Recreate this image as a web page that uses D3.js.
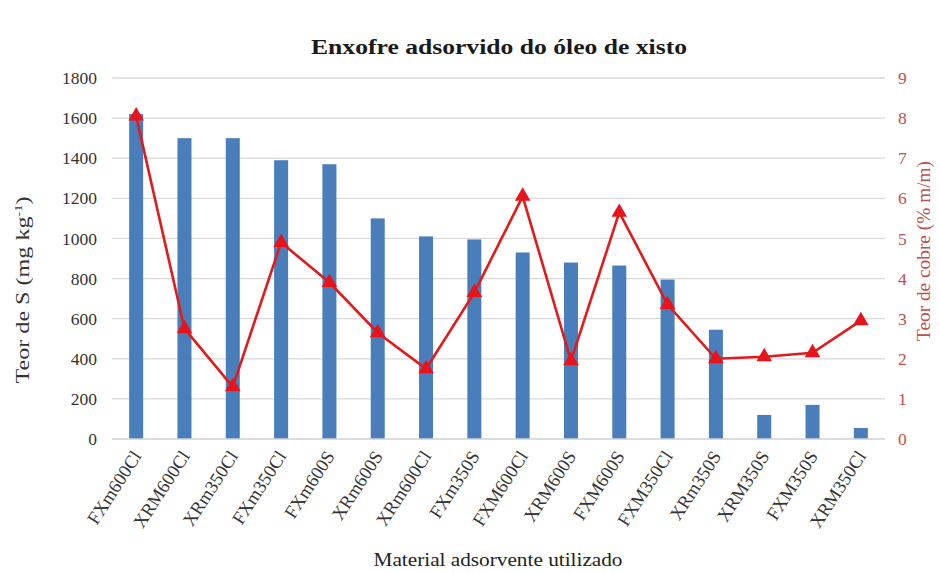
<!DOCTYPE html>
<html>
<head>
<meta charset="utf-8">
<script src="https://cdn.jsdelivr.net/npm/d3@7"></script>
<style>
  html, body { margin: 0; padding: 0; background: #fff; }
  svg { display: block; }
  svg text { font-family: "Liberation Serif", "Times New Roman", serif; }
</style>
</head>
<body>
<svg id="chart" width="940" height="573"></svg>
<script>
// Adsorbent materials (x categories)
const materials = ["FXm600Cl", "XRM600Cl", "XRm350Cl", "FXm350Cl", "FXm600S", "XRm600S",
  "XRm600Cl", "FXm350S", "FXM600Cl", "XRM600S", "FXM600S", "FXM350Cl",
  "XRm350S", "XRM350S", "FXM350S", "XRM350Cl"];
// Sulfur content adsorbed (mg kg-1), left axis
const sulfur = [1620, 1500, 1500, 1390, 1370, 1100, 1010, 995, 930, 880, 865, 795, 545, 120, 170, 55];
// Copper content (% m/m), right axis
const copper = [8.05, 2.75, 1.3, 4.9, 3.9, 2.65, 1.75, 3.65, 6.05, 1.95, 5.65, 3.35, 2.0, 2.05, 2.15, 2.95];
// Axis ticks
const leftTicks = [0, 200, 400, 600, 800, 1000, 1200, 1400, 1600, 1800];
const rightTicks = [0, 1, 2, 3, 4, 5, 6, 7, 8, 9];

const serif = "'Liberation Serif', 'Times New Roman', serif";
const svg = d3.select("#chart");
const m = { left: 112, right: 885, top: 78, bottom: 439 };

const x = d3.scaleBand().domain(materials).range([m.left, m.right]).paddingInner(0.71).paddingOuter(0.355);
const yL = d3.scaleLinear().domain([0, 1800]).range([m.bottom, m.top]);
const yR = d3.scaleLinear().domain([0, 9]).range([m.bottom, m.top]);

// Horizontal gridlines
svg.append("g").selectAll("line").data(leftTicks.slice(1)).join("line")
  .attr("x1", m.left).attr("x2", m.right)
  .attr("y1", d => yL(d)).attr("y2", d => yL(d))
  .attr("stroke", "#d9d9d9").attr("stroke-width", 1.3);

// Bars
svg.append("g").selectAll("rect").data(materials).join("rect")
  .attr("x", d => x(d)).attr("width", x.bandwidth())
  .attr("y", (d, i) => yL(sulfur[i]))
  .attr("height", (d, i) => yL(0) - yL(sulfur[i]))
  .attr("fill", "#4a7ebb");

// Category baseline
svg.append("line").attr("x1", m.left).attr("x2", m.right)
  .attr("y1", m.bottom).attr("y2", m.bottom)
  .attr("stroke", "#d0d0d0").attr("stroke-width", 1.3);

// Copper line with triangle markers
const line = d3.line().x((d, i) => x(materials[i]) + x.bandwidth() / 2).y(d => yR(d));
svg.append("path").datum(copper).attr("d", line)
  .attr("fill", "none").attr("stroke", "#e31a1c").attr("stroke-width", 2.6)
  .attr("stroke-linejoin", "miter");
svg.append("g").selectAll("path").data(copper).join("path")
  .attr("d", d3.symbol(d3.symbolTriangle, 105))
  .attr("transform", (d, i) => `translate(${x(materials[i]) + x.bandwidth() / 2},${yR(d)})`)
  .attr("fill", "#e8141c");

// Left axis
const axL = svg.append("g").attr("transform", `translate(${m.left},0)`)
  .call(d3.axisLeft(yL).tickValues(leftTicks).tickFormat(d3.format("d")).tickSize(0).tickPadding(15));
axL.select(".domain").remove();
axL.attr("font-family", null).attr("font-size", null);
axL.selectAll("text").style("font-family", serif).style("font-size", "17.5px").attr("fill", "#333");

// Right axis
const axR = svg.append("g").attr("transform", `translate(${m.right},0)`)
  .call(d3.axisRight(yR).tickValues(rightTicks).tickFormat(d3.format("d")).tickSize(0).tickPadding(13));
axR.select(".domain").remove();
axR.attr("font-family", null).attr("font-size", null);
axR.selectAll("text").style("font-family", serif).style("font-size", "17.5px").attr("fill", "#c0504d");

// Category labels
const axB = svg.append("g").attr("transform", `translate(0,${m.bottom})`)
  .call(d3.axisBottom(x).tickSize(0).tickPadding(0));
axB.select(".domain").remove();
axB.attr("font-family", null).attr("font-size", null);
axB.selectAll("text")
  .style("font-family", serif).style("font-size", "18.5px").attr("fill", "#333")
  .attr("text-anchor", "end").attr("dy", null).attr("y", 0)
  .attr("transform", "translate(6,17) rotate(-57)");

// Title
svg.append("text").attr("x", 499).attr("y", 54).attr("text-anchor", "middle")
  .attr("font-size", 20).attr("font-weight", "bold").attr("fill", "#1a1a1a")
  .attr("textLength", 376).attr("lengthAdjust", "spacingAndGlyphs")
  .text("Enxofre adsorvido do óleo de xisto");

// Axis titles
const lt = svg.append("text").attr("transform", "translate(29,290) rotate(-90)")
  .attr("text-anchor", "middle").attr("font-size", 18.5).attr("fill", "#333")
  .attr("textLength", 187).attr("lengthAdjust", "spacingAndGlyphs");
lt.append("tspan").text("Teor de S (mg kg");
lt.append("tspan").attr("dy", -7).attr("font-size", 11).text("-1");
lt.append("tspan").attr("dy", 7).text(")");

svg.append("text").attr("transform", "translate(930,251) rotate(-90)")
  .attr("text-anchor", "middle").attr("font-size", 18).attr("fill", "#c0504d")
  .attr("textLength", 180).attr("lengthAdjust", "spacingAndGlyphs")
  .text("Teor de cobre (% m/m)");

svg.append("text").attr("x", 498).attr("y", 566).attr("text-anchor", "middle")
  .attr("font-size", 18).attr("fill", "#222")
  .attr("textLength", 249).attr("lengthAdjust", "spacingAndGlyphs")
  .text("Material adsorvente utilizado");
</script>
</body>
</html>
